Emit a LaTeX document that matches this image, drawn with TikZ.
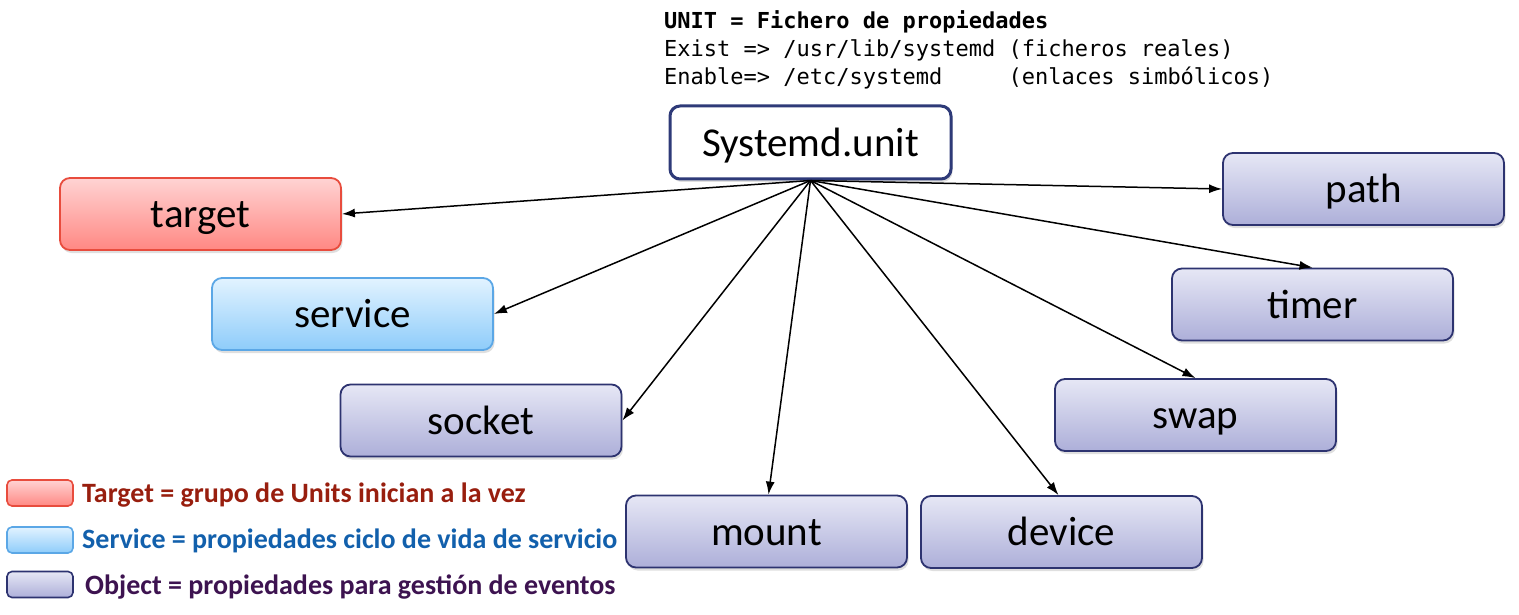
\documentclass[tikz,border=0pt]{standalone}
\usepackage{fontspec}
\setmainfont{Carlito}
\setmonofont{DejaVu Sans Mono}
\usetikzlibrary{arrows.meta,shadows}
\definecolor{objtop}{HTML}{E6E7F5}
\definecolor{objbot}{HTML}{ADAFD9}
\definecolor{objline}{HTML}{2D3370}
\definecolor{redtop}{HTML}{FFD3D3}
\definecolor{redbot}{HTML}{FF8883}
\definecolor{redline}{HTML}{E84C3D}
\definecolor{bluetop}{HTML}{E2F3FF}
\definecolor{bluebot}{HTML}{8ECCFA}
\definecolor{blueline}{HTML}{5BA7E6}
\definecolor{unitline}{HTML}{2E3A78}
\definecolor{legred}{HTML}{981E0E}
\definecolor{legblue}{HTML}{1260AC}
\definecolor{legpurple}{HTML}{3D1350}
\tikzset{
  box/.style={rounded corners=10pt, line width=1.8pt, minimum width=281pt, minimum height=72pt,
    inner sep=0pt, font=\fontsize{41}{48}\selectfont, text height=27.5pt, text depth=0pt,
    drop shadow={opacity=0.25, shadow xshift=1.5pt, shadow yshift=-3pt}},
  objbox/.style={box, draw=objline, top color=objtop, bottom color=objbot},
  redbox/.style={box, draw=redline, top color=redtop, bottom color=redbot},
  bluebox/.style={box, draw=blueline, top color=bluetop, bottom color=bluebot},
  swatch/.style={rounded corners=5pt, line width=1.6pt, minimum width=66pt, minimum height=26pt, inner sep=0pt},
  legtext/.style={anchor=base west, inner sep=0pt, font=\fontsize{28}{32}\selectfont\bfseries},
  monotext/.style={anchor=base west, inner sep=0pt, font=\fontsize{22}{26}\ttfamily},
  conn/.style={line width=1.5pt, -{Latex[length=13pt,width=9pt]}}
}
\begin{document}
\begin{tikzpicture}[x=1pt,y=-1pt]
\useasboundingbox (0,0) rectangle (1519,615);
% top text
\node[monotext, font=\fontsize{22}{26}\ttfamily\bfseries] (t1) at (664,29) {UNIT = Fichero de propiedades};
\node[monotext] (t2) at (664,57) {Exist => /usr/lib/systemd (ficheros reales)};
\node[monotext] (t3) at (664,85) {Enable=>~/etc/systemd~~~~~(enlaces simbólicos)};
% central unit
\node[box, draw=unitline, fill=white, line width=3pt, minimum width=281pt, minimum height=73pt, drop shadow={opacity=0}] (unit) at (810.5,142.5) {Systemd.unit};
% unit boxes
\node[redbox] (target) at (200.5,214) {target};
\node[bluebox] (service) at (352.5,314) {service};
\node[objbox] (socket) at (481,420.5) {socket};
\node[objbox] (mount) at (766.5,531.5) {mount};
\node[objbox] (device) at (1061.5,532) {device};
\node[objbox] (swap) at (1195.5,415) {swap};
\node[objbox] (timer) at (1312.5,304.5) {timer};
\node[objbox] (path) at (1363.5,189) {path};
% connectors
\draw[conn] (unit.south) -- (target.east);
\draw[conn] (unit.south) -- (service.east);
\draw[conn] (unit.south) -- (socket.east);
\draw[conn] (unit.south) -- ([xshift=2pt]mount.north);
\draw[conn] (unit.south) -- ([xshift=-3pt]device.north);
\draw[conn] (unit.south) -- (swap.north);
\draw[conn] (unit.south) -- (timer.north);
\draw[conn] (unit.south) -- (path.west);
% legend
\node[swatch, draw=redline, top color=redtop, bottom color=redbot] (sw1) at (40,493) {};
\node[swatch, draw=blueline, top color=bluetop, bottom color=bluebot] (sw2) at (40,540) {};
\node[swatch, draw=objline, top color=objtop, bottom color=objbot] (sw3) at (40,584.5) {};
\node[legtext, text=legred] (l1) at (82,502) {Target = grupo de Units inician a la vez};
\node[legtext, text=legblue] (l2) at (82,548) {Service = propiedades ciclo de vida de servicio};
\node[legtext, text=legpurple] (l3) at (85,594) {Object = propiedades para gestión de eventos};
\end{tikzpicture}
\end{document}
